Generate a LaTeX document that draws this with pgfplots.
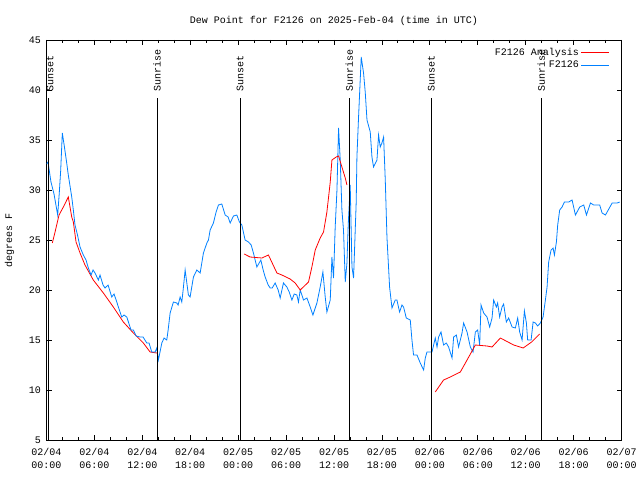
\documentclass[border=0pt]{standalone}
\usepackage{fontspec}
\setmainfont{Liberation Mono}
\usepackage{pgfplots}
\pgfplotsset{compat=1.18}
\definecolor{obsblue}{RGB}{0,128,255}
\begin{document}
\begin{tikzpicture}[x=1pt,y=1pt]
\begin{axis}[
  name=ax,
  scale only axis,
  width=575pt, height=400pt,
  xmin=0, xmax=72, ymin=5, ymax=45,
  xtick={0,6,...,72},
  xticklabels={{02/04\\00:00},{02/04\\06:00},{02/04\\12:00},{02/04\\18:00},{02/05\\00:00},{02/05\\06:00},{02/05\\12:00},{02/05\\18:00},{02/06\\00:00},{02/06\\06:00},{02/06\\12:00},{02/06\\18:00},{02/07\\00:00}},
  xticklabel style={align=center, font=\fontsize{10}{12.5}\selectfont, yshift=-5pt},
  minor x tick num=2,
  ytick={5,10,...,45},
  /pgf/number format/assume math mode=true,
  yticklabel style={font=\fontsize{10}{12}\selectfont, xshift=-2pt},
  major tick length=5pt, minor tick length=3pt,
  tick style={black, line width=0.8pt},
  axis line style={black, line width=0.8pt},
  ylabel={degrees F},
  ylabel style={font=\fontsize{10}{12}\selectfont, yshift=8pt},
  title={Dew Point for F2126 on 2025-Feb-04 (time in UTC)},
  title style={font=\fontsize{10}{12}\selectfont, yshift=5pt},
  legend style={draw=none, fill=none, at={(0.98,0.985)}, anchor=north east, font=\fontsize{10}{12}\selectfont, row sep=0pt, inner sep=0pt},
  legend cell align=right,
  legend plot pos=right,
  legend image code/.code={\draw[#1] (0pt,0pt) -- (28pt,0pt);},
  clip=true,
]
% analysis (red)
\addplot[red, line width=0.8pt] coordinates {
(0.73,24.7) (1.07,25.8) (1.57,27.5) (2.11,28.3) (2.73,29.3) (3.16,27.3) (3.36,26.8) (3.70,24.8) (4.20,23.7) (4.82,22.5) (5.86,21.0) (7.12,19.7) (8.37,18.3) (9.62,16.8) (10.88,15.7) (12.13,14.7) (12.97,13.8) (13.81,13.7)
};
\addlegendentry{F2126 Analysis}
\addplot[obsblue, line width=0.8pt] coordinates {
(0.00,32.6) (0.19,32.8) (0.56,30.8) (0.94,29.6) (1.40,27.5) (1.60,29.7) (1.78,32.0) (1.98,35.7) (2.19,34.6) (2.53,32.7) (2.73,31.5) (3.16,29.3) (3.36,28.0) (3.57,26.5) (3.88,25.5) (4.20,24.3) (4.61,23.5) (4.95,23.0) (5.24,22.2) (5.58,21.5) (5.83,22.0) (6.08,21.7) (6.49,21.0) (6.70,21.5) (7.08,20.5) (7.33,20.2) (7.71,20.5) (8.17,19.3) (8.46,19.6) (8.80,18.8) (8.96,18.4) (9.42,17.3) (9.71,17.5) (10.05,17.3) (10.34,16.6) (10.59,16.0) (10.88,16.0) (11.22,15.4) (11.72,15.3) (12.09,15.3) (12.56,14.7) (12.84,14.7) (13.18,13.8) (13.60,13.8) (13.81,14.2) (14.01,13.0) (14.44,14.7) (14.72,15.2) (15.06,15.0) (15.23,16.0) (15.48,17.7) (15.89,18.8) (16.32,18.7) (16.48,18.5) (16.73,19.3) (16.94,18.8) (17.11,20.0) (17.36,22.0) (17.57,20.7) (17.77,19.5) (17.98,19.3) (18.40,21.3) (18.82,22.0) (19.24,21.7) (19.65,23.7) (20.08,24.7) (20.28,25.0) (20.49,26.0) (20.90,26.7) (21.24,27.8) (21.53,28.5) (21.95,28.6) (22.37,27.5) (22.74,27.3) (23.00,26.7) (23.41,27.4) (23.83,27.5) (24.16,26.8) (24.46,26.5) (24.87,25.0) (25.29,24.8) (25.63,24.5) (25.91,23.7) (26.34,22.3) (26.84,23.0) (27.13,22.0) (27.38,21.3) (27.76,20.5) (28.01,20.2) (28.26,20.2) (28.63,20.7) (29.01,20.0) (29.26,19.2) (29.67,20.7) (30.10,20.3) (30.39,19.8) (30.73,19.0) (31.02,19.6) (31.35,19.5) (31.55,18.8) (31.77,20.0) (32.18,19.0) (32.61,19.2) (33.02,18.3) (33.36,17.5) (33.86,18.7) (34.27,20.3) (34.61,21.8) (34.90,19.3) (35.11,17.8) (35.53,19.0) (35.74,23.3) (35.94,21.2) (36.15,26.3) (36.37,30.0) (36.57,36.2) (36.78,33.0) (36.99,28.0) (37.19,26.0) (37.41,20.8) (37.62,22.7) (37.78,26.5) (38.03,30.5) (38.25,22.3) (38.45,21.2) (38.78,28.8) (38.87,33.3) (39.07,37.2) (39.41,43.3) (39.70,41.7) (39.91,39.8) (40.13,37.0) (40.54,35.8) (40.75,33.3) (40.95,32.3) (41.38,33.0) (41.58,35.5) (41.79,34.3) (42.00,34.7) (42.21,35.3) (42.42,31.0) (42.63,25.3) (42.96,20.3) (43.26,18.2) (43.67,19.0) (43.88,19.0) (44.21,17.8) (44.51,18.5) (44.71,18.3) (45.05,17.2) (45.55,17.0) (45.76,15.0) (45.96,13.5) (46.39,13.5) (46.80,12.7) (47.22,12.0) (47.43,13.2) (47.64,13.8) (48.27,13.8) (48.68,15.2) (48.90,14.3) (49.10,15.3) (49.40,15.8) (49.72,14.5) (50.06,14.7) (50.35,14.3) (50.78,13.2) (50.98,15.3) (51.32,15.5) (51.60,14.3) (52.03,15.7) (52.23,16.7) (52.66,15.8) (53.07,14.3) (53.41,13.8) (53.70,15.8) (53.99,16.0) (54.24,14.5) (54.41,18.5) (54.74,17.7) (55.16,17.3) (55.49,16.3) (55.79,17.2) (55.99,19.0) (56.33,18.3) (56.49,18.7) (56.74,17.3) (57.04,18.3) (57.24,18.6) (57.58,16.8) (57.87,17.2) (58.30,16.3) (58.71,16.2) (59.00,17.2) (59.25,15.8) (59.55,15.0) (59.84,17.9) (60.09,16.7) (60.25,15.0) (60.68,15.0) (60.93,16.8) (61.22,16.7) (61.50,16.4) (61.84,16.7) (62.18,17.3) (62.47,19.0) (62.68,20.3) (62.88,22.8) (63.18,24.0) (63.43,24.2) (63.60,23.5) (63.85,24.8) (64.01,26.5) (64.26,28.0) (64.56,28.3) (64.85,28.8) (65.39,28.8) (65.81,29.0) (66.23,27.5) (66.77,28.3) (67.27,28.5) (67.61,27.5) (68.11,28.7) (68.52,28.5) (69.27,28.5) (69.57,27.7) (69.99,27.5) (70.83,28.7) (71.45,28.7) (71.78,28.8)
};
\addlegendentry{F2126}
\addplot[red, line width=0.8pt, forget plot] coordinates {
(24.75,23.6) (25.50,23.3) (26.97,23.2) (27.79,23.5) (28.85,21.7) (29.47,21.5) (30.51,21.1) (31.14,20.7) (31.77,20.0) (32.81,20.8) (33.23,22.3) (33.65,24.0) (34.27,25.2) (34.69,25.8) (35.11,27.8) (35.53,30.8) (35.74,33.0) (36.28,33.3) (36.57,33.4) (36.99,32.3) (37.41,31.2) (37.62,30.5)
};
\addplot[red, line width=0.8pt, forget plot] coordinates {
(48.68,9.8) (49.72,11.0) (50.56,11.3) (51.82,11.8) (52.66,13.0) (53.70,14.5) (55.16,14.4) (55.79,14.3) (56.83,15.2) (58.50,14.5) (59.69,14.2) (60.74,14.8) (61.75,15.6)
};
% sunrise / sunset lines
\addplot[black, line width=0.8pt, forget plot] coordinates {(0.22,5) (0.22,39.2)};
\addplot[black, line width=0.8pt, forget plot] coordinates {(13.85,5) (13.85,39.2)};
\addplot[black, line width=0.8pt, forget plot] coordinates {(24.25,5) (24.25,39.2)};
\addplot[black, line width=0.8pt, forget plot] coordinates {(37.9,5) (37.9,39.2)};
\addplot[black, line width=0.8pt, forget plot] coordinates {(48.2,5) (48.2,39.2)};
\addplot[black, line width=0.8pt, forget plot] coordinates {(61.97,5) (61.97,39.2)};
\node[rotate=90, anchor=west, inner sep=0pt, font=\fontsize{10}{12}\selectfont] at (axis cs:0.45,39.8) {Sunset};
\node[rotate=90, anchor=west, inner sep=0pt, font=\fontsize{10}{12}\selectfont] at (axis cs:13.85,39.8) {Sunrise};
\node[rotate=90, anchor=west, inner sep=0pt, font=\fontsize{10}{12}\selectfont] at (axis cs:24.25,39.8) {Sunset};
\node[rotate=90, anchor=west, inner sep=0pt, font=\fontsize{10}{12}\selectfont] at (axis cs:37.9,39.8) {Sunrise};
\node[rotate=90, anchor=west, inner sep=0pt, font=\fontsize{10}{12}\selectfont] at (axis cs:48.2,39.8) {Sunset};
\node[rotate=90, anchor=west, inner sep=0pt, font=\fontsize{10}{12}\selectfont] at (axis cs:61.97,39.8) {Sunrise};
\end{axis}
\pgfresetboundingbox
\path[use as bounding box] ([shift={(-46.5pt,-40pt)}]ax.south west) rectangle ([shift={(18.5pt,40pt)}]ax.north east);
\end{tikzpicture}
\end{document}
